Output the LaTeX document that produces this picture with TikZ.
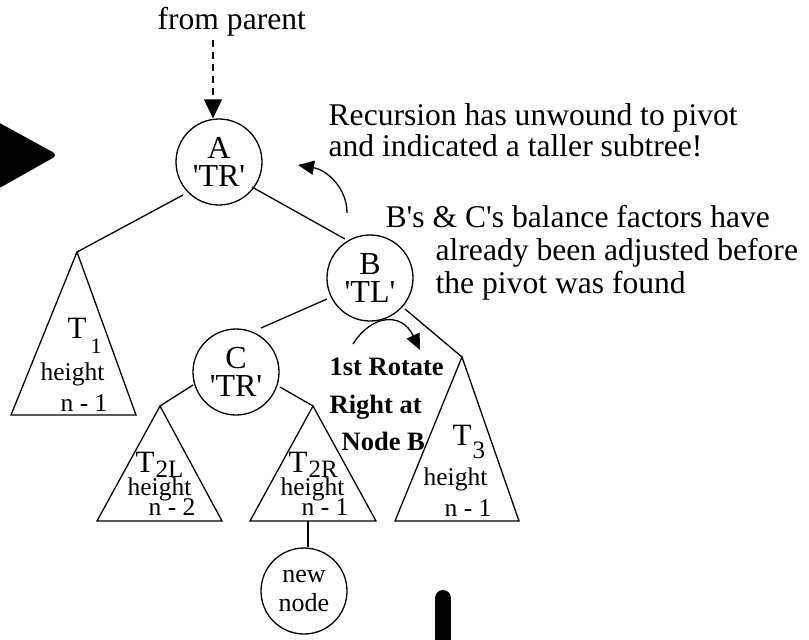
\documentclass[tikz,border=0pt]{standalone}
\usepackage{fontspec}
\setmainfont{Liberation Serif}
\usetikzlibrary{arrows.meta,calc}
\newcommand{\sq}{\textquotesingle}
\begin{document}
\begin{tikzpicture}[x=0.5pt,y=-0.5pt,line width=0.65pt,
  every node/.style={inner sep=0pt},
  vtx/.style={circle,draw,minimum size=43pt,align=center,font=\fontsize{16}{14}\selectfont},
  lbl/.style={anchor=base west},
  big/.style={lbl,font=\fontsize{15.8}{16}\selectfont},
  sml/.style={lbl,font=\fontsize{12.75}{14}\selectfont},
  tee/.style={lbl,font=\fontsize{15.5}{16}\selectfont},
  sub/.style={lbl,font=\fontsize{11}{12}\selectfont},
  subw/.style={lbl,font=\fontsize{12.5}{12}\selectfont},
  rot/.style={lbl,font=\fontsize{13.25}{14}\selectfont\bfseries},
  tip/.style={-{Triangle[length=8pt,width=7pt]}},
  subtree/.style={draw,line join=miter}]
\useasboundingbox (0,0) rectangle (809,639);
\clip (0,0) rectangle (809,639);

% black play marker on the left edge and the bar at the bottom
\fill[rounded corners=3pt] (-4,121) -- (58,155) -- (-4,190) -- cycle;
\draw[line width=8pt,line cap=round] (443,598) -- (443,660);

% tree nodes
\node[vtx] (A) at (219,162) {A\\\sq TR\sq};
\node[vtx] (B) at (370,278) {B\\\sq TL\sq};
\node[vtx] (C) at (236,372) {C\\\sq TR\sq};
\node[vtx,font=\fontsize{13}{14.5}\selectfont] (N) at (304,591) {new\\node};

% subtree apexes and triangles
\coordinate (t1) at (77,252);
\coordinate (t2l) at (160,406);
\coordinate (t2r) at (313,406);
\coordinate (t3) at (462,357);
\coordinate (t2rb) at (308,521);
\path[subtree] (t1) -- (11,415) -- (136,415) -- cycle;
\path[subtree] (t2l) -- (97,521) -- (222,521) -- cycle;
\path[subtree] (t2r) -- (250,521) -- (376,521) -- cycle;
\path[subtree] (t3) -- (395,521) -- (519,521) -- cycle;

% edges
\draw ($(A)+(-36,33)$) -- (t1);
\draw ($(A)+(33,25)$) -- ($(B)+(-25,-39)$);
\draw ($(B)+(-43,21)$) -- ($(C)+(25,-44)$);
\draw ($(B)+(35,31)$) -- (t3);
\draw ($(C)+(-43,13)$) -- (t2l);
\draw ($(C)+(44,15)$) -- (t2r);
\draw (t2rb) -- (t2rb |- N.north);

% link from the parent
\node[big] (fp) at (157,29) {from parent};
\coordinate (src) at (213,40);
\draw[dash pattern=on 3.5pt off 2.5pt,-{Triangle[length=9.5pt,width=9pt]}] (src) -- (src |- A.north);

% curved arrows
\coordinate (u0) at (347,213);
\coordinate (u1) at (298,165);
\draw[tip] (u0) .. controls (347,188) and (327,170) .. (u1);
\coordinate (r0) at (353,344);
\coordinate (r1) at (420,350);
\draw[tip] (r0) .. controls (372,314) and (402,312) .. (r1);

% subtree labels
\node[tee] at (67,338) {T};
\node[sub] at (90,353) {1};
\node[sml] at (40,380) {height};
\node[sml] at (60,411) {n - 1};

\node[tee] at (135,472) {T};
\node[subw] at (155,477) {2L};
\node[sml] at (127,495) {height};
\node[sml] at (148,515) {n - 2};

\node[tee] at (288,472) {T};
\node[subw] at (308,477) {2R};
\node[sml] at (280,495) {height};
\node[sml] at (301,515) {n - 1};

\node[tee] at (452,445) {T};
\node[subw] at (472,458) {3};
\node[sml] at (423,485) {height};
\node[sml] at (444,516) {n - 1};

% rotation note
\node[rot] at (329,375) {1st Rotate};
\node[rot] at (329,413) {Right at};
\node[rot] at (341,450) {Node B};

% commentary
\node[big] at (328,125) {Recursion has unwound to pivot};
\node[big] at (328,156) {and indicated a taller subtree!};
\node[big] at (385,227) {B\sq s \& C\sq s balance factors have};
\node[big] at (435,260) {already been adjusted before};
\node[big] at (435,293) {the pivot was found};
\end{tikzpicture}
\end{document}
